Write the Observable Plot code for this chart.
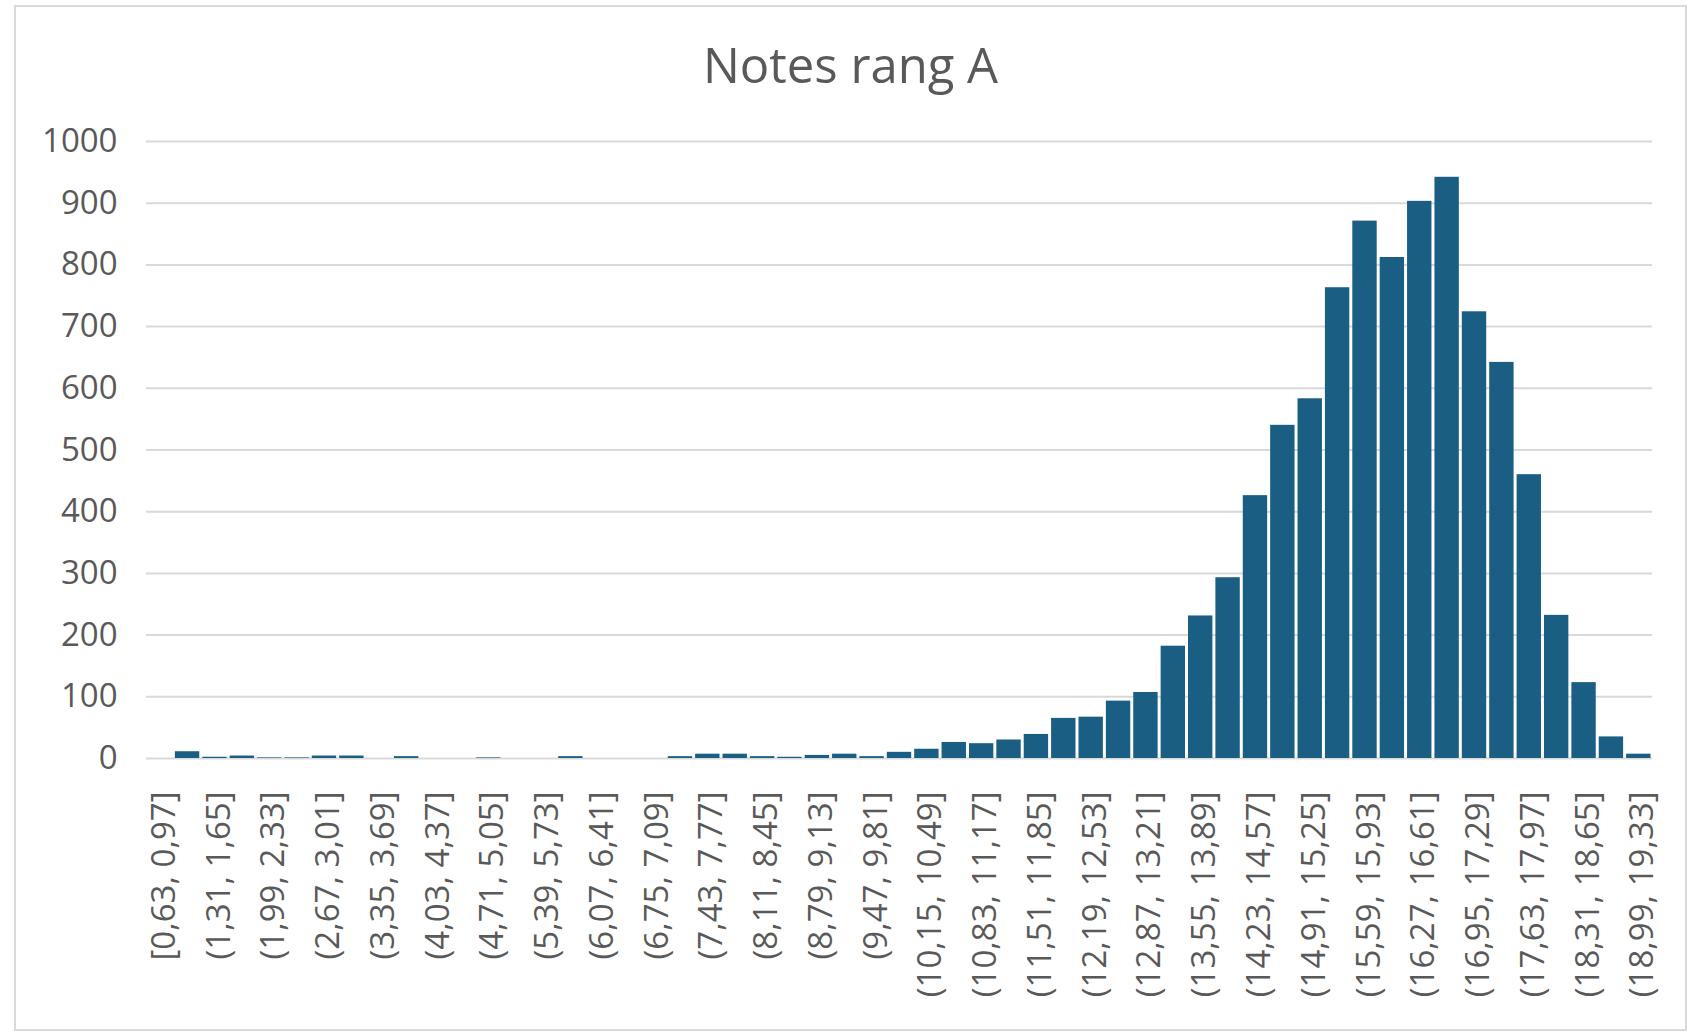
<!DOCTYPE html>
<html>
<head>
<meta charset="utf-8">
<script src="https://cdn.jsdelivr.net/npm/d3@7"></script>
<script src="https://cdn.jsdelivr.net/npm/@observablehq/plot@0.6"></script>
<style>
  body { margin: 0; background: #fff; }
  #wrap { position: relative; width: 1701px; height: 1034px; overflow: hidden; font-family: "Open Sans", sans-serif; background: #fff; }
  #frame { position: absolute; left: 14px; top: 5px; width: 1673px; height: 1026px; border: 2px solid #d9d9d9; box-sizing: border-box; }
  #title { position: absolute; left: 0; width: 1701px; top: 39px; line-height: 50px; text-align: center; font-size: 49px; color: #595959; }
  #chart { position: absolute; left: 0; top: 100px; }
</style>
</head>
<body>
<div id="wrap">
  <div id="frame"></div>
  <div id="title">Notes rang A</div>
  <div id="chart"></div>
</div>
<script>
const bins = [
  "[0,63, 0,97]", "(0,97, 1,31]", "(1,31, 1,65]", "(1,65, 1,99]", "(1,99, 2,33]",
  "(2,33, 2,67]", "(2,67, 3,01]", "(3,01, 3,35]", "(3,35, 3,69]", "(3,69, 4,03]",
  "(4,03, 4,37]", "(4,37, 4,71]", "(4,71, 5,05]", "(5,05, 5,39]", "(5,39, 5,73]",
  "(5,73, 6,07]", "(6,07, 6,41]", "(6,41, 6,75]", "(6,75, 7,09]", "(7,09, 7,43]",
  "(7,43, 7,77]", "(7,77, 8,11]", "(8,11, 8,45]", "(8,45, 8,79]", "(8,79, 9,13]",
  "(9,13, 9,47]", "(9,47, 9,81]", "(9,81, 10,15]", "(10,15, 10,49]", "(10,49, 10,83]",
  "(10,83, 11,17]", "(11,17, 11,51]", "(11,51, 11,85]", "(11,85, 12,19]", "(12,19, 12,53]",
  "(12,53, 12,87]", "(12,87, 13,21]", "(13,21, 13,55]", "(13,55, 13,89]", "(13,89, 14,23]",
  "(14,23, 14,57]", "(14,57, 14,91]", "(14,91, 15,25]", "(15,25, 15,59]", "(15,59, 15,93]",
  "(15,93, 16,27]", "(16,27, 16,61]", "(16,61, 16,95]", "(16,95, 17,29]", "(17,29, 17,63]",
  "(17,63, 17,97]", "(17,97, 18,31]", "(18,31, 18,65]", "(18,65, 18,99]", "(18,99, 19,33]"
];

const counts = [
  0, 11, 2, 4, 1, 1, 4, 4, 0, 3,
  0, 0, 1, 0, 0, 3, 0, 0, 0, 3,
  7, 7, 3, 2, 5, 7, 3, 10, 15, 26,
  24, 30, 39, 65, 67, 93, 107, 182, 231, 293,
  426, 540, 583, 763, 871, 812, 903, 942, 724, 642,
  460, 232, 123, 35, 7
];

const tickLabels = [
  "[0,63, 0,97]", "(1,31, 1,65]", "(1,99, 2,33]", "(2,67, 3,01]", "(3,35, 3,69]",
  "(4,03, 4,37]", "(4,71, 5,05]", "(5,39, 5,73]", "(6,07, 6,41]", "(6,75, 7,09]",
  "(7,43, 7,77]", "(8,11, 8,45]", "(8,79, 9,13]", "(9,47, 9,81]", "(10,15, 10,49]",
  "(10,83, 11,17]", "(11,51, 11,85]", "(12,19, 12,53]", "(12,87, 13,21]", "(13,55, 13,89]",
  "(14,23, 14,57]", "(14,91, 15,25]", "(15,59, 15,93]", "(16,27, 16,61]", "(16,95, 17,29]",
  "(17,63, 17,97]", "(18,31, 18,65]", "(18,99, 19,33]"
];

const yTicks = [0, 100, 200, 300, 400, 500, 600, 700, 800, 900, 1000];

const data = bins.map((b, i) => ({bin: b, count: counts[i]}));

const chart = Plot.plot({
  width: 1701,
  height: 934,
  marginTop: 41,
  marginBottom: 276,
  marginLeft: 146,
  marginRight: 49,
  style: {fontFamily: "'Open Sans', sans-serif", color: "#595959", background: "transparent", overflow: "visible"},
  x: {type: "band", domain: bins, padding: 0, round: false, axis: null},
  y: {domain: [0, 1000], axis: null},
  marks: [
    Plot.ruleY(yTicks, {stroke: "#d9d9d9", strokeWidth: 2}),
    Plot.barY(data, {x: "bin", y: "count", fill: "#1b5e84", insetLeft: 1.5, insetRight: 1.5}),
    Plot.axisY({ticks: yTicks, tickSize: 0, tickPadding: 29, fontSize: 33, fill: "#595959", label: null, tickFormat: d => String(d)}),
    Plot.text(tickLabels, {x: d => d, frameAnchor: "bottom", dx: 4, dy: 33, rotate: -90, textAnchor: "end", lineAnchor: "middle", fontSize: 33, fill: "#595959"})
  ]
});
document.getElementById("chart").appendChild(chart);
</script>
</body>
</html>
